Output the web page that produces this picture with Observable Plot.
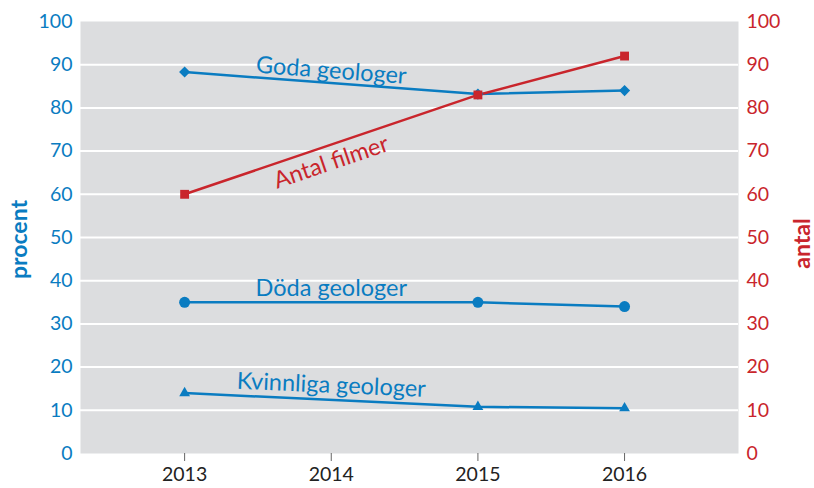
<!DOCTYPE html>
<html>
<head>
<meta charset="utf-8">
<script src="https://cdn.jsdelivr.net/npm/d3@7"></script>
<script src="https://cdn.jsdelivr.net/npm/@observablehq/plot@0.6"></script>
<style>
  html, body { margin: 0; padding: 0; background: #fff; }
</style>
</head>
<body>
<div id="chart"></div>
<script>
const years = [2013, 2015, 2016];
const goda = [88.3, 83.2, 84.0];
const antal = [60, 83, 92];
const doda = [35, 35, 34];
const kvinnliga = [14, 10.8, 10.5];
const xTicks = [2013, 2014, 2015, 2016];
const yTicks = [0, 10, 20, 30, 40, 50, 60, 70, 80, 90, 100];

const blue = "#0a7cc1";
const red = "#c9252c";

const series = [
  {name: "Goda geologer", values: goda, color: blue, symbol: "diamond2", r: 5},
  {name: "Antal filmer", values: antal, color: red, symbol: "square", r: 5},
  {name: "Döda geologer", values: doda, color: blue, symbol: "circle", r: 5.5},
  {name: "Kvinnliga geologer", values: kvinnliga, color: blue, symbol: "triangle", r: 4}
];
const rows = series.flatMap(s => years.map((x, i) => ({series: s.name, x, y: s.values[i]})));

const labels = [
  {text: "Goda geologer", x: 2014, y: 88.6, rotate: 4.3},
  {text: "Antal filmer", x: 2014, y: 67.4, rotate: -18.8},
  {text: "Döda geologer", x: 2014, y: 38.3, rotate: 0},
  {text: "Kvinnliga geologer", x: 2014, y: 15.8, rotate: 2.5}
];

const chart = Plot.plot({
  width: 814,
  height: 488,
  marginLeft: 80,
  marginRight: 76,
  marginTop: 21,
  marginBottom: 35,
  style: {fontFamily: "Lato, 'Open Sans', sans-serif", fontSize: "19px", background: "#fff"},
  x: {type: "linear", domain: [2012.29, 2016.777]},
  y: {domain: [0, 100]},
  marks: [
    Plot.frame({fill: "#dcdddf", stroke: null}),
    Plot.gridY({ticks: yTicks.filter(d => d > 0 && d < 100), stroke: "#fff", strokeOpacity: 1, strokeWidth: 2}),
    Plot.axisY({anchor: "left", ticks: yTicks, tickSize: 0, tickPadding: 8, fill: blue, fontSize: 19.5, label: null}),
    Plot.axisY({anchor: "right", ticks: yTicks, tickSize: 0, tickPadding: 8, fill: red, fontSize: 19.5, label: null}),
    Plot.axisX({ticks: xTicks, tickFormat: "d", tickSize: 8, tickPadding: 6, stroke: "#666", fill: "#222", fontSize: 19.5, label: null}),
    ...series.map(s => Plot.line(rows.filter(r => r.series === s.name), {x: "x", y: "y", stroke: s.color, strokeWidth: 2.5})),
    ...series.map(s => Plot.dot(rows.filter(r => r.series === s.name), {x: "x", y: "y", fill: s.color, symbol: s.symbol, r: s.r, stroke: null})),
    ...labels.map((l, i) => Plot.text([l], {x: "x", y: "y", text: "text", rotate: l.rotate, fill: i === 1 ? red : blue, fontSize: 23.5})),
    Plot.text(["procent"], {frameAnchor: "left", textAnchor: "middle", dx: -61, dy: 2, rotate: -90, fill: blue, fontWeight: "bold", fontSize: 23}),
    Plot.text(["antal"], {frameAnchor: "right", textAnchor: "middle", dx: 64, dy: 6, rotate: -90, fill: red, fontWeight: "bold", fontSize: 23})
  ]
});
document.getElementById("chart").appendChild(chart);
</script>
</body>
</html>
